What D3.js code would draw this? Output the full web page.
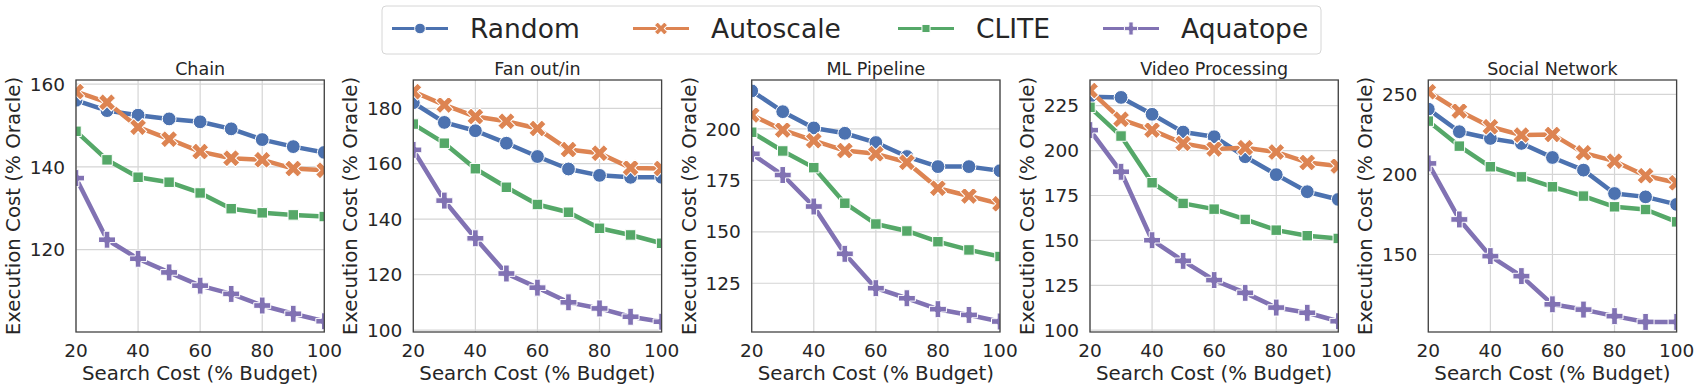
<!DOCTYPE html>
<html>
<head>
<meta charset="utf-8">
<script src="https://cdn.jsdelivr.net/npm/d3@7"></script>
<style>
  body { margin: 0; background: #fff; }
  text { font-family: "DejaVu Sans", sans-serif; fill: #262626; }
</style>
</head>
<body>
<div id="chart"></div>
<script>
// data
var budgets = [20, 30, 40, 50, 60, 70, 80, 90, 100];
var methods = ["Random", "Autoscale", "CLITE", "Aquatope"];
var workloads = ["Chain", "Fan out/in", "ML Pipeline", "Video Processing", "Social Network"];

var chainRandom = [156.1, 153.6, 152.5, 151.6, 150.9, 149.2, 146.6, 144.9, 143.5];
var chainAutoscale = [158.2, 155.6, 149.6, 146.7, 143.7, 142.1, 141.7, 139.6, 139.2];
var chainClite = [148.6, 141.7, 137.5, 136.3, 133.7, 129.9, 128.9, 128.4, 128.0];
var chainAquatope = [137.3, 122.4, 117.8, 114.5, 111.3, 109.3, 106.5, 104.5, 102.7];

var fanRandom = [182.0, 174.9, 171.9, 167.4, 162.6, 158.1, 155.8, 155.1, 155.1];
var fanAutoscale = [186.0, 181.2, 177.0, 175.3, 172.7, 165.1, 163.8, 158.5, 158.3];
var fanClite = [174.3, 167.4, 158.2, 151.5, 145.3, 142.5, 136.7, 134.3, 131.3];
var fanAquatope = [165.0, 146.7, 133.1, 120.4, 115.3, 110.0, 107.8, 104.8, 103.0];

var mlRandom = [218.5, 208.4, 200.5, 197.9, 193.4, 186.6, 181.7, 181.7, 179.7];
var mlAutoscale = [206.8, 199.5, 194.3, 189.5, 187.9, 183.8, 171.2, 167.4, 163.6];
var mlClite = [198.4, 189.3, 181.2, 163.9, 153.8, 150.4, 145.2, 141.2, 138.0];
var mlAquatope = [187.9, 177.6, 162.3, 139.3, 122.6, 117.7, 112.4, 109.6, 106.4];

var videoRandom = [230.0, 229.6, 220.2, 210.3, 207.7, 196.6, 186.6, 177.1, 172.8];
var videoAutoscale = [233.4, 217.4, 211.4, 204.0, 200.9, 201.6, 199.2, 193.4, 191.4];
var videoClite = [224.1, 208.1, 182.1, 170.6, 167.4, 161.7, 155.7, 152.6, 151.1];
var videoAquatope = [211.4, 188.2, 150.1, 138.6, 127.9, 120.8, 112.6, 109.7, 105.0];

var socialRandom = [240.8, 226.7, 222.5, 219.4, 210.6, 202.7, 188.1, 186.0, 181.3];
var socialAutoscale = [251.7, 239.6, 229.8, 224.6, 225.0, 213.5, 208.3, 199.2, 194.8];
var socialClite = [233.3, 217.7, 204.8, 198.5, 192.3, 186.5, 179.8, 178.1, 170.4];
var socialAquatope = [206.9, 171.9, 149.0, 136.5, 118.9, 115.6, 111.5, 107.9, 107.9];

var xTicks = [20, 40, 60, 80, 100];
var yTicks = [
  [120, 140, 160],
  [100, 120, 140, 160, 180],
  [125, 150, 175, 200],
  [100, 125, 150, 175, 200, 225],
  [150, 200, 250]
];
var yDomains = [
  [100.1, 161],
  [99.3, 190.2],
  [101.3, 223.8],
  [99.0, 239.3],
  [101.6, 259]
];

var panelSeries = [
  [chainRandom, chainAutoscale, chainClite, chainAquatope],
  [fanRandom, fanAutoscale, fanClite, fanAquatope],
  [mlRandom, mlAutoscale, mlClite, mlAquatope],
  [videoRandom, videoAutoscale, videoClite, videoAquatope],
  [socialRandom, socialAutoscale, socialClite, socialAquatope]
];

// seaborn "deep" palette
var colors = ["#4c72b0", "#dd8452", "#55a868", "#8172b3"];
var symbols = [d3.symbolCircle, d3.symbolCross, d3.symbolSquare, d3.symbolCross];
var rotations = [0, 45, 0, 0];
var sizes = [150, 185, 110, 160];

var width = 1702;
var height = 390;
var svg = d3
  .select("#chart")
  .append("svg")
  .attr("width", width)
  .attr("height", height);

// panel geometry
var panelLefts = [76, 413.3, 751.7, 1090, 1428.3];
var panelW = 248.3;
var plotTop = 80;
var plotBottom = 332;

function marker(g, i, x, y, scale) {
  g.append("path")
    .attr("d", d3.symbol().type(symbols[i]).size(sizes[i] * scale)())
    .attr("transform", "translate(" + x + "," + y + ") rotate(" + rotations[i] + ")")
    .attr("fill", colors[i])
    .attr("stroke", "#fff")
    .attr("stroke-width", 1);
}

workloads.forEach(function (name, p) {
  var left = panelLefts[p];
  var x = d3.scaleLinear().domain([20, 100]).range([left, left + panelW]);
  var y = d3.scaleLinear().domain(yDomains[p]).range([plotBottom, plotTop]);
  var g = svg.append("g").attr("class", "panel");

  // grid
  g.selectAll(".vgrid")
    .data(xTicks)
    .enter()
    .append("line")
    .attr("x1", x).attr("x2", x)
    .attr("y1", plotTop).attr("y2", plotBottom)
    .attr("stroke", "#d5d5d5")
    .attr("stroke-width", 1.2);
  g.selectAll(".hgrid")
    .data(yTicks[p])
    .enter()
    .append("line")
    .attr("x1", left).attr("x2", left + panelW)
    .attr("y1", y).attr("y2", y)
    .attr("stroke", "#d5d5d5")
    .attr("stroke-width", 1.2);

  // tick labels
  g.selectAll(".xt")
    .data(xTicks)
    .enter()
    .append("text")
    .attr("x", x)
    .attr("y", 357)
    .attr("text-anchor", "middle")
    .style("font-size", "18.5px")
    .text(function (d) { return d; });
  g.selectAll(".yt")
    .data(yTicks[p])
    .enter()
    .append("text")
    .attr("x", left - 11)
    .attr("y", y)
    .attr("dy", "0.36em")
    .attr("text-anchor", "end")
    .style("font-size", "18.5px")
    .text(function (d) { return d; });

  // title and axis labels
  g.append("text")
    .attr("x", left + panelW / 2)
    .attr("y", 75)
    .attr("text-anchor", "middle")
    .style("font-size", "17.5px")
    .text(name);
  g.append("text")
    .attr("x", left + panelW / 2)
    .attr("y", 380)
    .attr("text-anchor", "middle")
    .style("font-size", "19.8px")
    .text("Search Cost (% Budget)");
  g.append("text")
    .attr("transform", "translate(" + (left - 56) + "," + (plotTop + plotBottom) / 2 + ") rotate(-90)")
    .attr("text-anchor", "middle")
    .style("font-size", "19.8px")
    .text("Execution Cost (% Oracle)");

  // lines + markers, clipped to plot box
  var clipId = "clip" + p;
  svg.append("clipPath")
    .attr("id", clipId)
    .append("rect")
    .attr("x", left).attr("y", plotTop - 2)
    .attr("width", panelW).attr("height", plotBottom - plotTop + 4);
  var plot = g.append("g").attr("clip-path", "url(#" + clipId + ")");
  var line = d3.line()
    .x(function (d, i) { return x(budgets[i]); })
    .y(function (d) { return y(d); });

  panelSeries[p].forEach(function (vals, s) {
    var sg = plot.append("g");
    sg.append("path")
      .attr("d", line(vals))
      .attr("fill", "none")
      .attr("stroke", colors[s])
      .attr("stroke-width", 4.5)
      .attr("stroke-linejoin", "round");
    vals.forEach(function (v, i) {
      marker(sg, s, x(budgets[i]), y(v), 1);
    });
  });

  // frame
  g.append("rect")
    .attr("x", left).attr("y", plotTop)
    .attr("width", panelW).attr("height", plotBottom - plotTop)
    .attr("fill", "none")
    .attr("stroke", "#444")
    .attr("stroke-width", 1.3);
});

// legend
var legend = svg.append("g").attr("class", "legend");
legend.append("rect")
  .attr("x", 382).attr("y", 6)
  .attr("width", 939).attr("height", 48)
  .attr("rx", 4)
  .attr("fill", "#fff")
  .attr("stroke", "#d6d6d6")
  .attr("stroke-width", 1);
var legendX = [392, 633, 898, 1103];
methods.forEach(function (m, i) {
  var lx = legendX[i];
  legend.append("line")
    .attr("x1", lx).attr("x2", lx + 56)
    .attr("y1", 28.5).attr("y2", 28.5)
    .attr("stroke", colors[i])
    .attr("stroke-width", 3);
  marker(legend, i, lx + 28, 28.5, 0.6);
  legend.append("text")
    .attr("x", lx + 78)
    .attr("y", 38)
    .style("font-size", "26.5px")
    .text(m);
});
</script>
</body>
</html>
